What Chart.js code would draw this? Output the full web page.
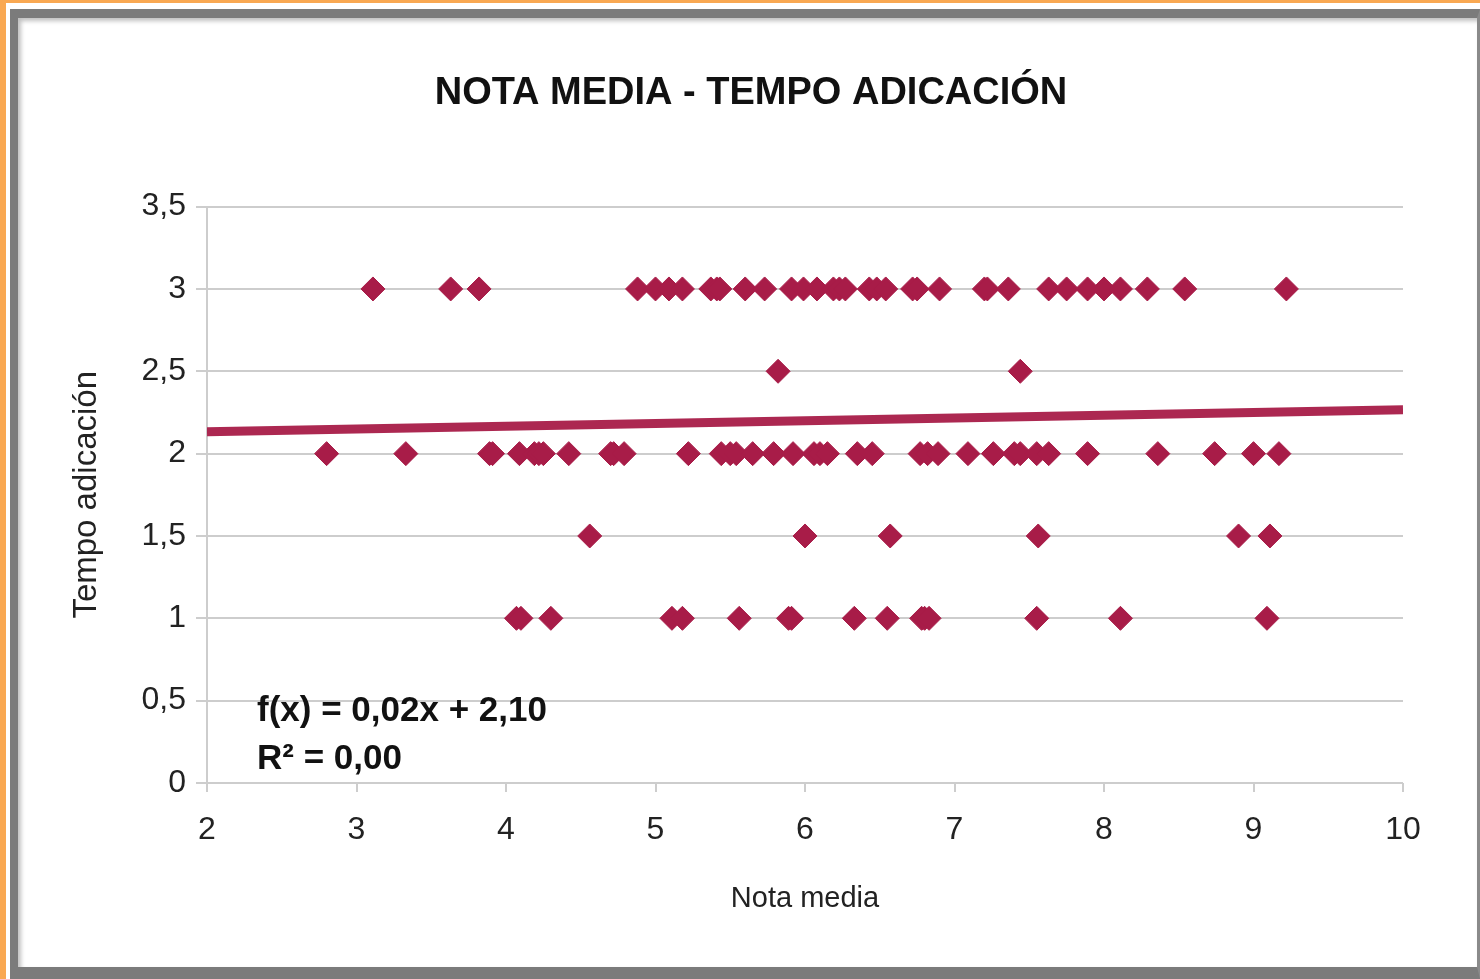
<!DOCTYPE html>
<html>
<head>
<meta charset="utf-8">
<title>Nota media - Tempo adicación</title>
<script src="https://cdn.jsdelivr.net/npm/chart.js@4.4.1/dist/chart.umd.min.js"></script>
<style>
  html, body { margin: 0; padding: 0; background: #fff; overflow: hidden; }
  #orangeLeft { position: absolute; left: 0; top: 0; width: 6px; height: 979px; background: #f9a852; }
  #orangeTop { position: absolute; left: 0; top: 0; width: 1480px; height: 3px; background: #f9a852; }
  #frame {
    position: absolute; left: 10px; top: 9px; width: 1470px; height: 970px;
    box-sizing: border-box;
    border-left: 8px solid #7b7b7b; border-top: 9px solid #7b7b7b;
    border-right: 3px solid #8a8a8a; border-bottom: 12px solid #7b7b7b;
    box-shadow: inset 3px 3px 4px rgba(0,0,0,0.25);
  }
  #wrap { position: absolute; left: 0; top: 0; width: 1480px; height: 979px; }
</style>
</head>
<body>
<div id="orangeLeft"></div>
<div id="orangeTop"></div>
<div id="frame"></div>
<div id="wrap"><canvas id="scatter-chart"></canvas></div>
<script>
/**
 *
 * Nota media - Tempo adicación scatter
 *
 */

// nota media of each student, grouped by tempo adicación level
let notas30 = [3.11, 3.63, 3.82, 4.88, 5.00, 5.09, 5.18, 5.37, 5.41, 5.43, 5.60, 5.73, 5.91, 5.99, 6.08, 6.19, 6.23, 6.27, 6.43, 6.48, 6.54, 6.72, 6.75, 6.90, 7.20, 7.22, 7.36, 7.63, 7.75, 7.89, 8.00, 8.11, 8.29, 8.54, 9.22];
let notas25 = [5.82, 7.44];
let notas20 = [2.80, 3.33, 3.89, 3.91, 4.09, 4.19, 4.22, 4.25, 4.42, 4.70, 4.72, 4.79, 5.22, 5.44, 5.50, 5.54, 5.65, 5.79, 5.92, 6.06, 6.10, 6.15, 6.35, 6.45, 6.77, 6.82, 6.89, 7.09, 7.26, 7.40, 7.44, 7.55, 7.63, 7.89, 8.36, 8.74, 9.00, 9.17];
let notas15 = [4.56, 6.00, 6.57, 7.56, 8.90, 9.11];
let notas10 = [4.07, 4.10, 4.30, 5.11, 5.18, 5.56, 5.89, 5.91, 6.33, 6.55, 6.78, 6.80, 6.83, 7.55, 8.11, 9.09];

let tempoLevels = [3, 2.5, 2, 1.5, 1];
let notasByLevel = [notas30, notas25, notas20, notas15, notas10];

// linear trend
let trendSlope = 0.0166;
let trendIntercept = 2.10;
let trendR2 = 0.00;
let trendRange = [2, 10];

let xTicks = [2, 3, 4, 5, 6, 7, 8, 9, 10];
let yTicks = [0, 0.5, 1, 1.5, 2, 2.5, 3, 3.5];

let points = [];
tempoLevels.forEach(function(level, i) {
    notasByLevel[i].forEach(function(nota) {
        points.push({x: nota, y: level});
    });
});

let trendPoints = trendRange.map(function(x) {
    return {x: x, y: trendIntercept + trendSlope * x};
});

const comma = v => String(v).replace('.', ',');
const fmt2 = v => v.toFixed(2).replace('.', ',');

const red = '#a81c48';
const gridGray = '#cdcdcd';
const font = "'Liberation Sans', Arial, sans-serif";

// draws the trend equation in the lower-left corner of the plot
const equationLabel = {
    id: 'equationLabel',
    afterDatasetsDraw(chart) {
        const {ctx, chartArea} = chart;
        ctx.save();
        ctx.fillStyle = '#111';
        ctx.font = "bold 35px " + font;
        ctx.textBaseline = 'middle';
        ctx.textAlign = 'left';
        ctx.fillText('f(x) = ' + fmt2(trendSlope) + 'x + ' + fmt2(trendIntercept), chartArea.left + 50, chartArea.bottom - 72);
        ctx.fillText('R² = ' + fmt2(trendR2), chartArea.left + 50, chartArea.bottom - 24);
        ctx.restore();
    }
};

let ctxChart = document.getElementById('scatter-chart').getContext('2d');

let chart = new Chart(ctxChart, {
    type: 'scatter',
    data: {
        datasets: [{
            label: 'Tempo adicación',
            data: points,
            pointStyle: 'rectRot',
            pointRadius: 12,
            pointBorderWidth: 1,
            pointBackgroundColor: red,
            pointBorderColor: red,
            order: 2
        }, {
            label: 'Tendencia',
            data: trendPoints,
            showLine: true,
            borderColor: 'rgba(168, 28, 72, 0.95)',
            borderWidth: 9,
            pointRadius: 0,
            order: 1
        }]
    },
    plugins: [equationLabel],
    options: {
        responsive: true,
        maintainAspectRatio: false,
        animation: false,
        layout: {
            padding: {left: 22, right: 0, top: 0, bottom: 0}
        },
        plugins: {
            legend: { display: false },
            tooltip: { enabled: false },
            title: {
                display: true,
                text: 'NOTA MEDIA - TEMPO ADICACIÓN',
                color: '#111',
                font: { family: font, size: 38, weight: 'bold', lineHeight: 1.2 },
                padding: { top: 71, bottom: 90 }
            }
        },
        scales: {
            x: {
                type: 'linear',
                min: xTicks[0],
                max: xTicks[xTicks.length - 1],
                afterBuildTicks: function(scale) {
                    scale.ticks = xTicks.map(v => ({value: v}));
                },
                afterFit: function(scale) { scale.height = 196; },
                grid: {
                    drawOnChartArea: false,
                    drawTicks: true,
                    tickLength: 9,
                    color: gridGray,
                    lineWidth: 2
                },
                border: { display: false },
                ticks: {
                    padding: 19,
                    color: '#222',
                    font: { family: font, size: 32 },
                    callback: comma
                },
                title: {
                    display: true,
                    text: 'Nota media',
                    color: '#222',
                    font: { family: font, size: 29 },
                    padding: { top: 0, bottom: 63 }
                }
            },
            y: {
                type: 'linear',
                min: yTicks[0],
                max: yTicks[yTicks.length - 1],
                afterBuildTicks: function(scale) {
                    scale.ticks = yTicks.map(v => ({value: v}));
                },
                afterFit: function(scale) { scale.width = 185; },
                grid: {
                    color: gridGray,
                    lineWidth: 2,
                    drawTicks: true,
                    tickLength: 11
                },
                border: { display: true, color: gridGray, width: 2 },
                ticks: {
                    padding: 10,
                    color: '#222',
                    font: { family: font, size: 32 },
                    callback: comma
                },
                title: {
                    display: true,
                    text: 'Tempo adicación',
                    color: '#222',
                    font: { family: font, size: 33 },
                    padding: { top: 45, bottom: 0 }
                }
            },
            // empty right-hand axis that only reserves the margin at the right of the plot
            spacer: {
                type: 'linear',
                position: 'right',
                display: true,
                afterFit: function(scale) { scale.width = 77; },
                grid: { display: false },
                border: { display: false },
                ticks: { display: false }
            }
        }
    }
});
</script>
</body>
</html>
